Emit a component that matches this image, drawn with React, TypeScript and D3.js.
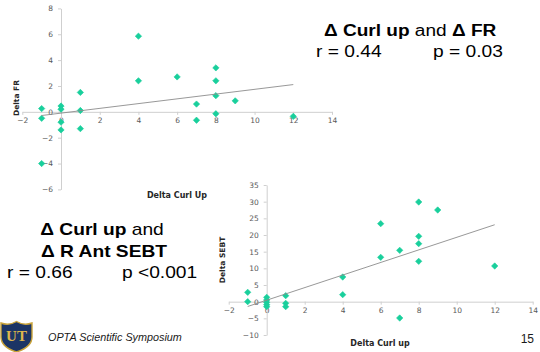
import React, { useEffect, useRef } from "react";
import * as d3 from "d3";

// Delta Curl up vs Delta FR
const curlFR = [-1, -1, -1, 0, 0, 0, 0, 1, 1, 1, 4, 4, 6, 7, 7, 8, 8, 8, 8, 9, 12];
const deltaFR = [0.25, -0.5, -4, 0.45, 0.2, -0.8, -1.4, 1.5, 0.1, -1.3, 5.85, 2.4, 2.7, 0.6, -0.65, 3.4, 2.4, 1.25, -0.15, 0.85, -0.35];

// Delta Curl up vs Delta SEBT
const curlSEBT = [-1, -1, 0, 0, 0, 0, 0, 1, 1, 1, 4, 4, 6, 6, 7, 7, 8, 8, 8, 8, 9, 12];
const deltaSEBT = [2.8, 0, 1.3, 0.5, -0.2, -0.9, -1.5, 1.8, -0.5, -1.5, 7.4, 2.1, 23.4, 13.3, 15.4, -4.9, 29.9, 19.6, 17.4, 12.1, 27.5, 10.7];

const xTicks = [-2, 0, 2, 4, 6, 8, 10, 12, 14];
const frTicks = [-6, -4, -2, 0, 2, 4, 6, 8];
const sebtTicks = [-10, -5, 0, 5, 10, 15, 20, 25, 30, 35];

const GREEN = "#19cf9c";
const TICK_FONT = "'DejaVu Sans', Verdana, sans-serif";
const BIG_FONT = "'Liberation Sans', Arial, sans-serif";

// least squares fit, like the Excel trendline
function fit(xs: number[], ys: number[]) {
  const mx = d3.mean(xs)!;
  const my = d3.mean(ys)!;
  let sxy = 0, sxx = 0;
  xs.forEach((x, i) => {
    sxy += (x - mx) * (ys[i] - my);
    sxx += (x - mx) * (x - mx);
  });
  const slope = sxy / sxx;
  return { slope, intercept: my - slope * mx };
}

type Cfg = {
  xs: number[];
  ys: number[];
  yTicks: number[];
  xRange: [number, number];
  yDomain: [number, number];
  yRange: [number, number];
  yTitle: string;
  xTitle: string;
  yTitlePos: [number, number];
  xTitlePos: [number, number];
};

function drawScatter(root: d3.Selection<SVGGElement, unknown, null, undefined>, c: Cfg) {
  const x = d3.scaleLinear().domain([-2, 14]).range(c.xRange);
  const y = d3.scaleLinear().domain(c.yDomain).range(c.yRange);

  const g = root.append("g");

  const xAxis = g.append("g")
    .attr("transform", `translate(0,${y(0)})`)
    .call(d3.axisBottom(x).tickValues(xTicks).tickSize(3).tickSizeOuter(0).tickPadding(3));
  const yAxis = g.append("g")
    .attr("transform", `translate(${x(0)},0)`)
    .call(d3.axisLeft(y).tickValues(c.yTicks).tickSize(3).tickSizeOuter(0).tickPadding(5));

  [xAxis, yAxis].forEach(a => {
    a.select(".domain").attr("stroke", "#cfcfcf");
    a.selectAll(".tick line").attr("stroke", "#cfcfcf");
    a.selectAll(".tick text")
      .attr("fill", "#595959")
      .style("font-family", TICK_FONT)
      .style("font-size", "7.5px");
  });

  const sym = d3.symbol(d3.symbolSquare, 20);
  g.append("g")
    .selectAll("path")
    .data(c.xs.map((v, i) => [v, c.ys[i]]))
    .join("path")
    .attr("d", sym)
    .attr("fill", GREEN)
    .attr("stroke", GREEN)
    .attr("stroke-width", 0.6)
    .attr("stroke-linejoin", "round")
    .attr("transform", d => `translate(${x(d[0])},${y(d[1])}) rotate(45)`);

  const { slope, intercept } = fit(c.xs, c.ys);
  const [x0, x1] = d3.extent(c.xs) as [number, number];
  g.append("line")
    .attr("x1", x(x0)).attr("y1", y(slope * x0 + intercept))
    .attr("x2", x(x1)).attr("y2", y(slope * x1 + intercept))
    .attr("stroke", "#8c8c8c")
    .attr("stroke-width", 0.9);

  g.append("text")
    .attr("transform", `translate(${c.yTitlePos[0]},${c.yTitlePos[1]}) rotate(-90)`)
    .attr("text-anchor", "middle")
    .style("font-family", TICK_FONT)
    .style("font-size", "7.5px")
    .style("font-weight", "bold")
    .attr("fill", "#262626")
    .text(c.yTitle);

  g.append("text")
    .attr("x", c.xTitlePos[0])
    .attr("y", c.xTitlePos[1])
    .attr("text-anchor", "middle")
    .style("font-family", TICK_FONT)
    .style("font-size", "8px")
    .style("font-weight", "bold")
    .attr("fill", "#262626")
    .text(c.xTitle);
}

const App: React.FC = () => {
  const gRef = useRef<SVGGElement>(null);

  useEffect(() => {
    if (!gRef.current) return;
    const root = d3.select(gRef.current);
    root.selectAll("*").remove();

    drawScatter(root, {
      xs: curlFR, ys: deltaFR, yTicks: frTicks,
      xRange: [22.3, 332], yDomain: [-6, 8], yRange: [189.4, 8.4],
      yTitle: "Delta FR", xTitle: "Delta Curl Up",
      yTitlePos: [19, 98], xTitlePos: [177, 198],
    });

    drawScatter(root, {
      xs: curlSEBT, ys: deltaSEBT, yTicks: sebtTicks,
      xRange: [228.7, 532.7], yDomain: [-10, 35], yRange: [335, 185],
      yTitle: "Delta SEBT", xTitle: "Delta Curl up",
      yTitlePos: [225, 260], xTitlePos: [380, 346],
    });
  }, []);

  const big = { fontFamily: BIG_FONT, fontSize: 16 };

  return (
    <svg width={540} height={352} style={{ position: "absolute", left: 0, top: 0, background: "#fff" }}>
      <g ref={gRef} />

      {/* top right annotation */}
      <g transform="translate(324,36) scale(1.19,1)" style={big}>
        <text>
          <tspan fontWeight="bold">Δ Curl up</tspan>
          <tspan> and </tspan>
          <tspan fontWeight="bold">Δ FR</tspan>
        </text>
      </g>
      <g transform="translate(316,56.5) scale(1.2,1)" style={big}>
        <text>r = 0.44</text>
      </g>
      <g transform="translate(433,56.5) scale(1.2,1)" style={big}>
        <text>p = 0.03</text>
      </g>

      {/* bottom left annotation */}
      <g transform="translate(102,235) scale(1.2,1)" style={big}>
        <text textAnchor="middle">
          <tspan fontWeight="bold">Δ Curl up</tspan>
          <tspan> and</tspan>
        </text>
      </g>
      <g transform="translate(104,256.5) scale(1.2,1)" style={big}>
        <text textAnchor="middle" fontWeight="bold">Δ R Ant SEBT</text>
      </g>
      <g transform="translate(7,278) scale(1.2,1)" style={big}>
        <text>r = 0.66</text>
      </g>
      <g transform="translate(122,278) scale(1.2,1)" style={big}>
        <text>p &lt;0.001</text>
      </g>

      {/* footer */}
      <g transform="translate(0,321)">
        <path
          d="M1,2 Q9,5 16.5,0.5 Q24,5 32,2 L32,16 Q32,26 16.5,31 Q1,26 1,16 Z"
          fill="#1c3565"
          stroke="#c9a33a"
          strokeWidth={1.4}
        />
        <text x={16.5} y={20} textAnchor="middle" fill="#dcb64c"
          style={{ fontFamily: "'Liberation Serif', serif", fontSize: 15, fontWeight: "bold" }}>
          UT
        </text>
      </g>
      <text x={48} y={341} fill="#1a1a1a"
        style={{ fontFamily: BIG_FONT, fontSize: 10.8, fontStyle: "italic" }}>
        OPTA Scientific Symposium
      </text>
      <text x={534} y={343} textAnchor="end" fill="#1a1a1a"
        style={{ fontFamily: BIG_FONT, fontSize: 12 }}>
        15
      </text>
    </svg>
  );
};

export default App;
